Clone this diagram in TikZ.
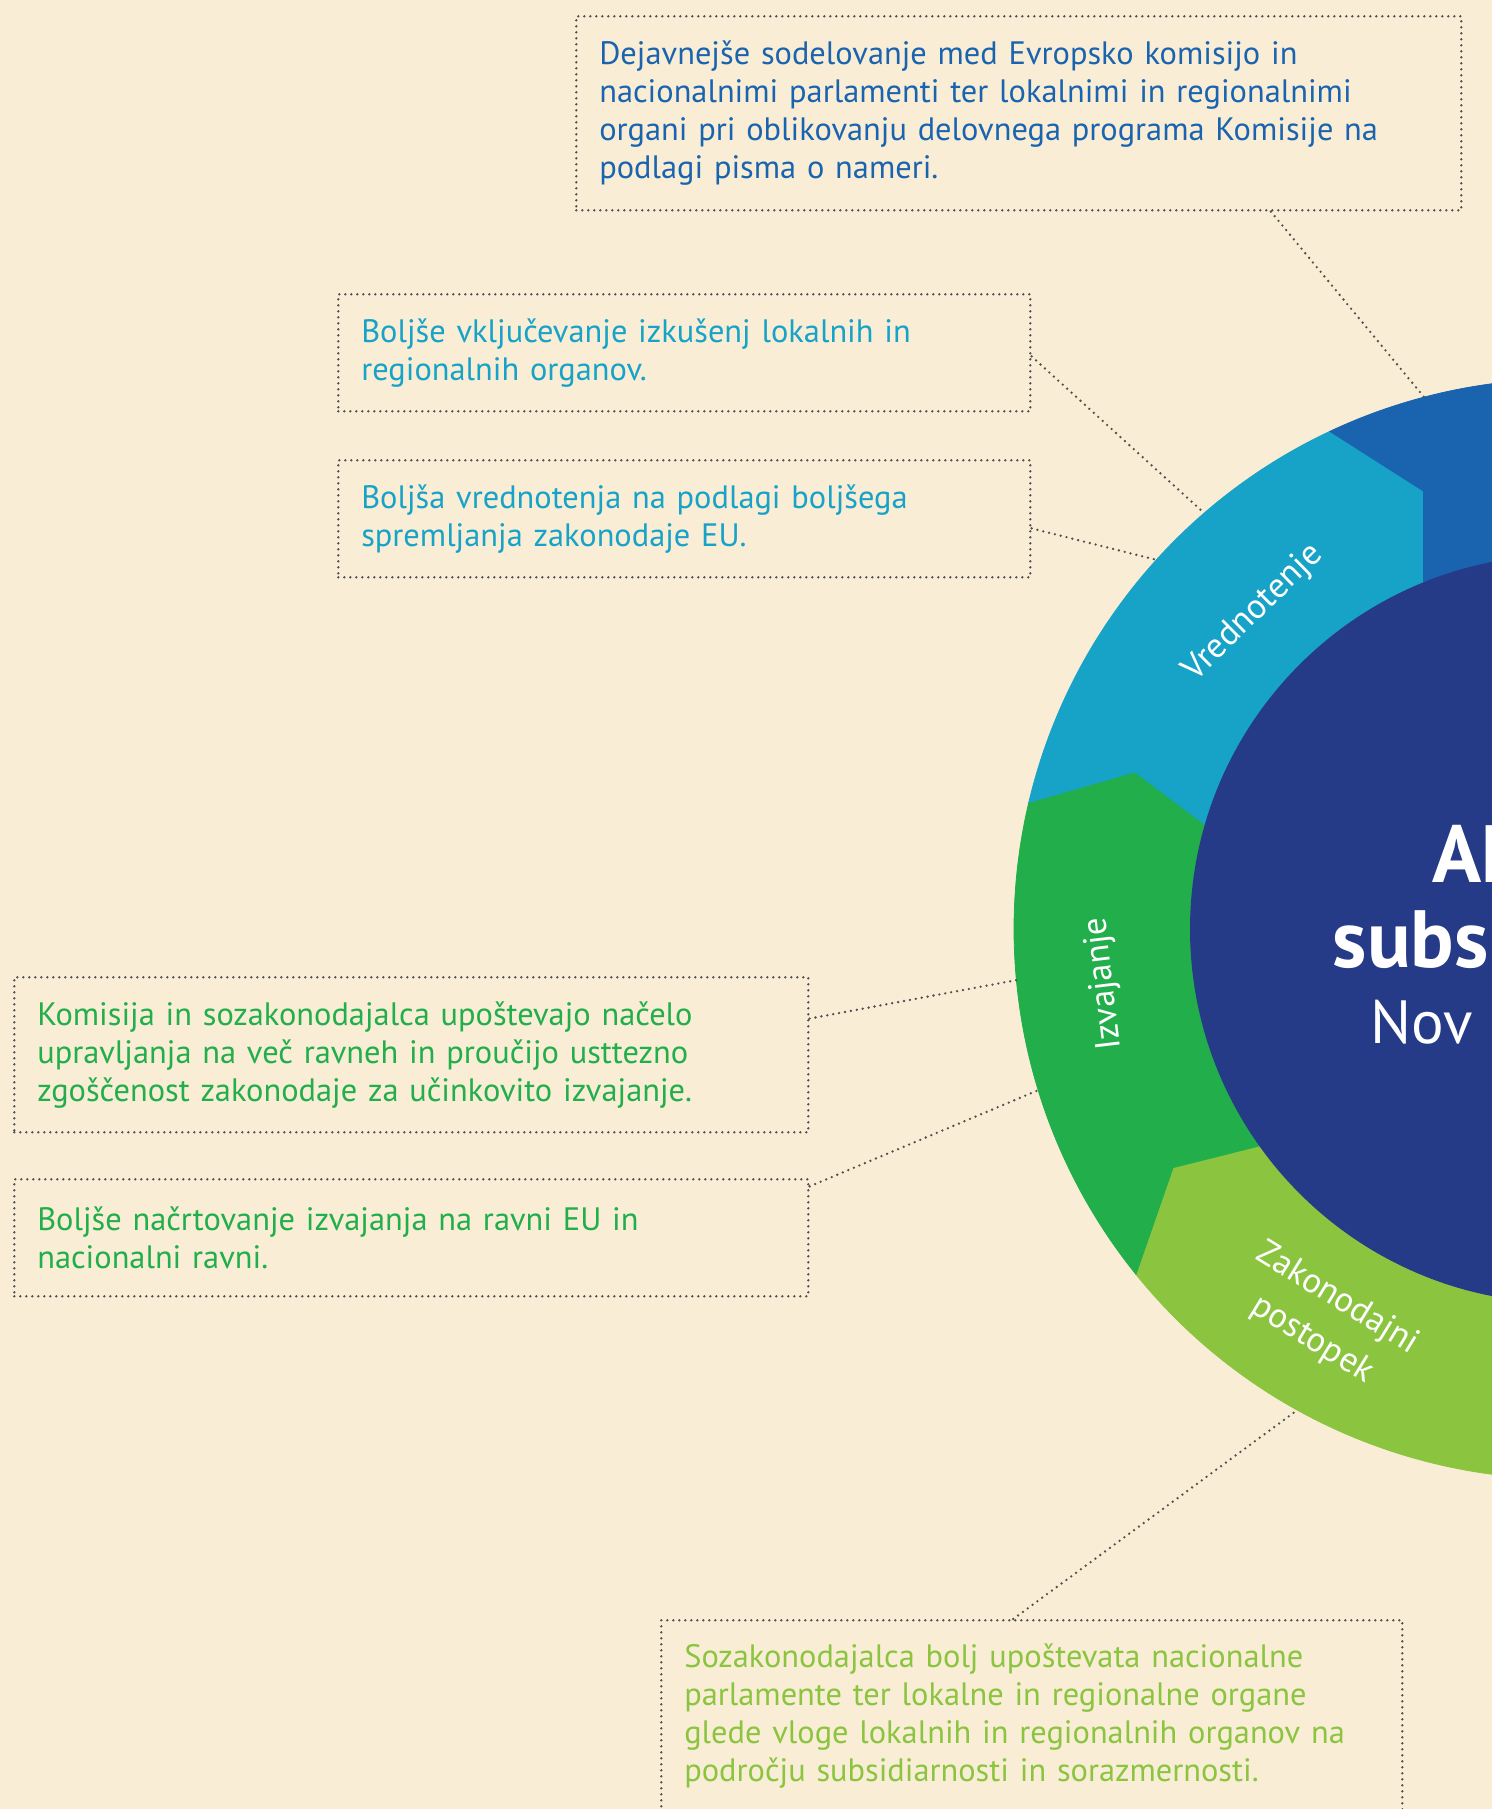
\documentclass[tikz,border=0pt]{standalone}
\usepackage{fontspec}
\setmainfont{PT Sans}
\usetikzlibrary{calc}

\definecolor{paper}{HTML}{F9EDD6}
\definecolor{navy}{HTML}{253B88}
\definecolor{ringblue}{HTML}{1A64AF}
\definecolor{ringcyan}{HTML}{17A3C7}
\definecolor{ringgreen}{HTML}{21AE4B}
\definecolor{ringlime}{HTML}{8BC540}
\definecolor{dotgray}{HTML}{505050}

\begin{document}
\begin{tikzpicture}[x=0.5pt,y=-0.5pt,
  dotline/.style={draw=dotgray, line width=1.3pt, line cap=round, dash pattern=on 0pt off 3pt},
  infobox/.style={dotline, anchor=north west, align=left, inner xsep=11.5pt, inner ysep=0pt,
    font=\fontsize{16.2}{19}\selectfont},
  ringlabel/.style={text=white, align=center, font=\fontsize{17.5}{24}\selectfont},
  titlebold/.style={anchor=base, text=white, font=\bfseries\fontsize{40.6}{42}\selectfont},
  titlereg/.style={anchor=base, text=white, font=\fontsize{30.5}{32}\selectfont},
  seg/.style={line width=0.4pt}
]
\useasboundingbox (0,0) rectangle (1492,1809);
\fill[paper] (0,0) rectangle (1492,1809);

\begin{scope}
\clip (0,0) rectangle (1492,1809);

% ring of four arrow-shaped segments around the centre disc
\begin{scope}[shift={(1564,929)}, y=0.5pt]
  \filldraw[seg, fill=ringlime, draw=ringlime]
    (218.9:550) arc[start angle=218.9, end angle=300, radius=550]
    -- (300:370) arc[start angle=300, end angle=215.7, radius=370]
    -- (211.4:458) -- cycle;
  \filldraw[seg, fill=ringgreen, draw=ringgreen]
    (166.7:550) arc[start angle=166.7, end angle=218.9, radius=550]
    -- (211.4:458) -- (215.7:370)
    arc[start angle=215.7, end angle=164.0, radius=370]
    -- (159.9:457) -- cycle;
  \filldraw[seg, fill=ringcyan, draw=ringcyan]
    (115.2:550) arc[start angle=115.2, end angle=166.7, radius=550]
    -- (159.9:457) -- (164.0:370)
    arc[start angle=164.0, end angle=112.3, radius=370]
    -- (107.8:460) -- cycle;
  \filldraw[seg, fill=ringblue, draw=ringblue]
    (60:550) arc[start angle=60, end angle=115.2, radius=550]
    -- (107.8:460) -- (112.3:370)
    arc[start angle=112.3, end angle=60, radius=370] -- cycle;
  \fill[navy] (0,0) circle[radius=374];

  \node[ringlabel, rotate=44.5] (lblEval) at (134.5:443) {Vrednotenje};
  \node[ringlabel, rotate=96.8] (lblImpl) at (186.8:463) {Izvajanje};
  \node[ringlabel, rotate=-31.5] (lblLeg) at (238.5:458) {Zakonodajni\\postopek};
\end{scope}

% title in the centre disc
\node[titlebold] (title1) at (1564,882) {Aktivna};
\node[titlebold] (title2) at (1564,967) {subsidiarnost};
\node[titlereg] (title3) at (1564,1043) {Nov način dela};

% text boxes
\node[infobox, text=ringblue, minimum width=442.5pt, minimum height=97pt, text width=419.5pt]
  (boxA) at (575,15)
  {Dejavnejše sodelovanje med Evropsko komisijo in\\
   nacionalnimi parlamenti ter lokalnimi in regionalnimi\\
   organi pri oblikovanju delovnega programa Komisije na\\
   podlagi pisma o nameri.};
\node[infobox, text=ringcyan, minimum width=346pt, minimum height=58.5pt, text width=323pt]
  (boxB) at (337,293)
  {Boljše vključevanje izkušenj lokalnih in\\ regionalnih organov.};
\node[infobox, text=ringcyan, minimum width=346pt, minimum height=58.5pt, text width=323pt]
  (boxC) at (337,459)
  {Boljša vrednotenja na podlagi boljšega\\ spremljanja zakonodaje EU.};
\node[infobox, text=ringgreen, minimum width=397pt, minimum height=77.5pt, text width=374pt]
  (boxD) at (13,976)
  {Komisija in sozakonodajalca upoštevajo načelo\\
   upravljanja na več ravneh in proučijo usttezno\\
   zgoščenost zakonodaje za učinkovito izvajanje.};
\node[infobox, text=ringgreen, minimum width=397pt, minimum height=58.5pt, text width=374pt]
  (boxE) at (13,1178)
  {Boljše načrtovanje izvajanja na ravni EU in\\ nacionalni ravni.};
\node[infobox, text=ringlime, minimum width=370.5pt, minimum height=96pt, text width=347.5pt]
  (boxF) at (660,1619)
  {Sozakonodajalca bolj upoštevata nacionalne\\
   parlamente ter lokalne in regionalne organe\\
   glede vloge lokalnih in regionalnih organov na\\
   področju subsidiarnosti in sorazmernosti.};

% leader lines from the boxes to the ring
\coordinate (endA) at (1424,397);
\coordinate (endB) at (1203,512);
\coordinate (endC) at (1157,560);
\coordinate (endD) at (1017,980);
\coordinate (endE) at (1041,1089);
\coordinate (endF) at (1296,1411);

\draw[dotline] ($(boxA.south west)!0.784!(boxA.south east)$) -- (endA);
\draw[dotline] ($(boxB.north east)!0.53!(boxB.south east)$) -- (endB);
\draw[dotline] ($(boxC.north east)!0.58!(boxC.south east)$) -- (endC);
\draw[dotline] ($(boxD.north east)!0.27!(boxD.south east)$) -- (endD);
\draw[dotline] ($(boxE.north east)!0.07!(boxE.south east)$) -- (endE);
\draw[dotline] ($(boxF.north west)!0.475!(boxF.north east)$) -- (endF);
\end{scope}
\end{tikzpicture}
\end{document}
